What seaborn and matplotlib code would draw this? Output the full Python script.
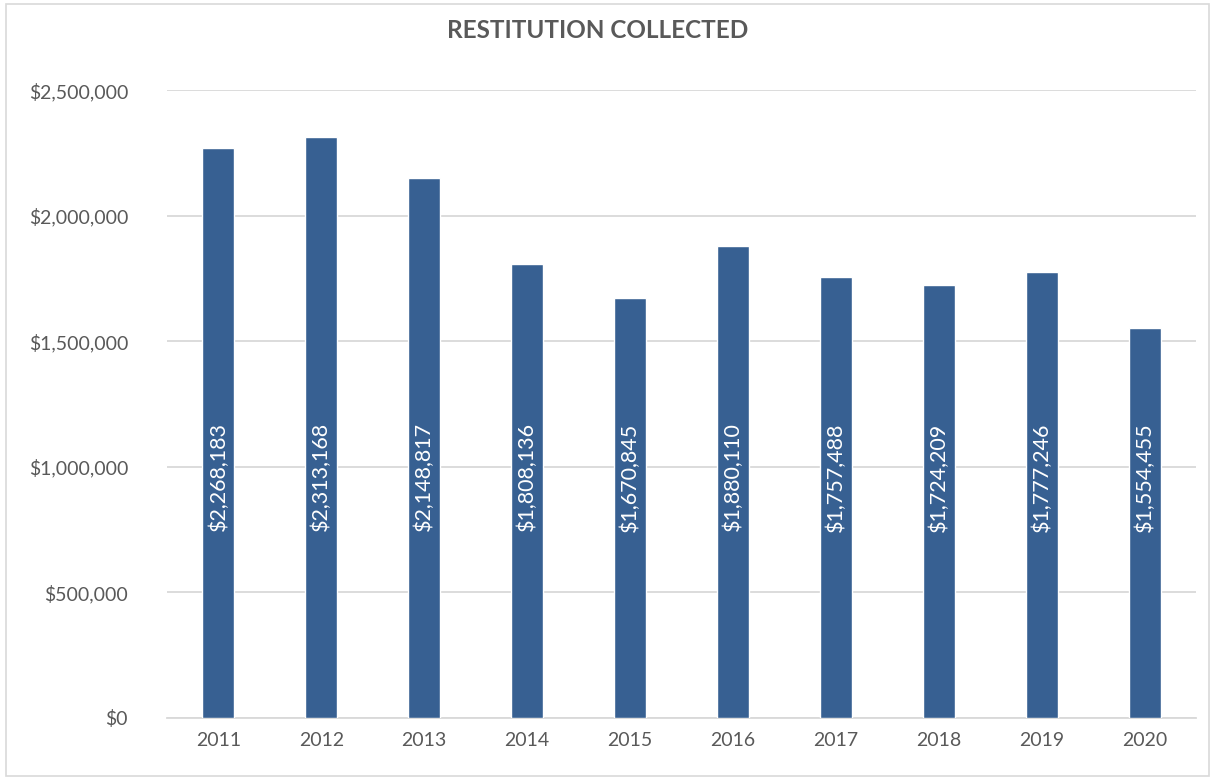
import seaborn as sns
import pandas as pd
import matplotlib.pyplot as plt
from matplotlib.patches import Rectangle
from matplotlib.ticker import FuncFormatter

years = ["2011", "2012", "2013", "2014", "2015", "2016", "2017", "2018", "2019", "2020"]
restitution = [2268183, 2313168, 2148817, 1808136, 1670845, 1880110, 1757488, 1724209, 1777246, 1554455]

df = pd.DataFrame({"year": years, "amount": restitution})

sns.set_style("white")
plt.rcParams['font.family'] = ['Lato', 'DejaVu Sans']

fig = plt.figure(figsize=(12.15, 7.8), dpi=100)
ax = fig.add_axes([0.1374, 0.0795, 0.847, 0.805])

bar_color = '#376092'
sns.barplot(data=df, x="year", y="amount", color=bar_color, width=0.31,
            saturation=1, ax=ax, zorder=3)

ax.set_ylim(0, 2500000)
ax.set_yticks(range(0, 2500001, 500000))
ax.yaxis.set_major_formatter(FuncFormatter(lambda v, p: f'${v:,.0f}'))
ax.grid(axis='y', color='#d9d9d9', linewidth=1.3, zorder=0)
ax.set_xlabel('')
ax.set_ylabel('')
for side in ['top', 'right', 'left']:
    ax.spines[side].set_visible(False)
ax.spines['bottom'].set_color('#d9d9d9')
ax.spines['bottom'].set_linewidth(1.3)
ax.tick_params(axis='both', length=0, labelsize=14, colors='#595959')
ax.tick_params(axis='y', pad=28)
ax.tick_params(axis='x', pad=10)

# value labels inside bars
for i, v in enumerate(restitution):
    ax.text(i, 960000, f'${v:,.0f}', rotation=90, ha='center', va='center',
            color='white', fontsize=15.5, zorder=4)

fig.text(0.492, 0.961, 'RESTITUTION COLLECTED', ha='center', va='center',
         fontsize=17.5, fontweight='bold', color='#595959')

# outer chart border
fig.patches.append(Rectangle((0.005, 0.005), 0.99, 0.99, transform=fig.transFigure,
                             fill=False, edgecolor='#d9d9d9', linewidth=1.2))

plt.savefig('out.png', dpi=100)
